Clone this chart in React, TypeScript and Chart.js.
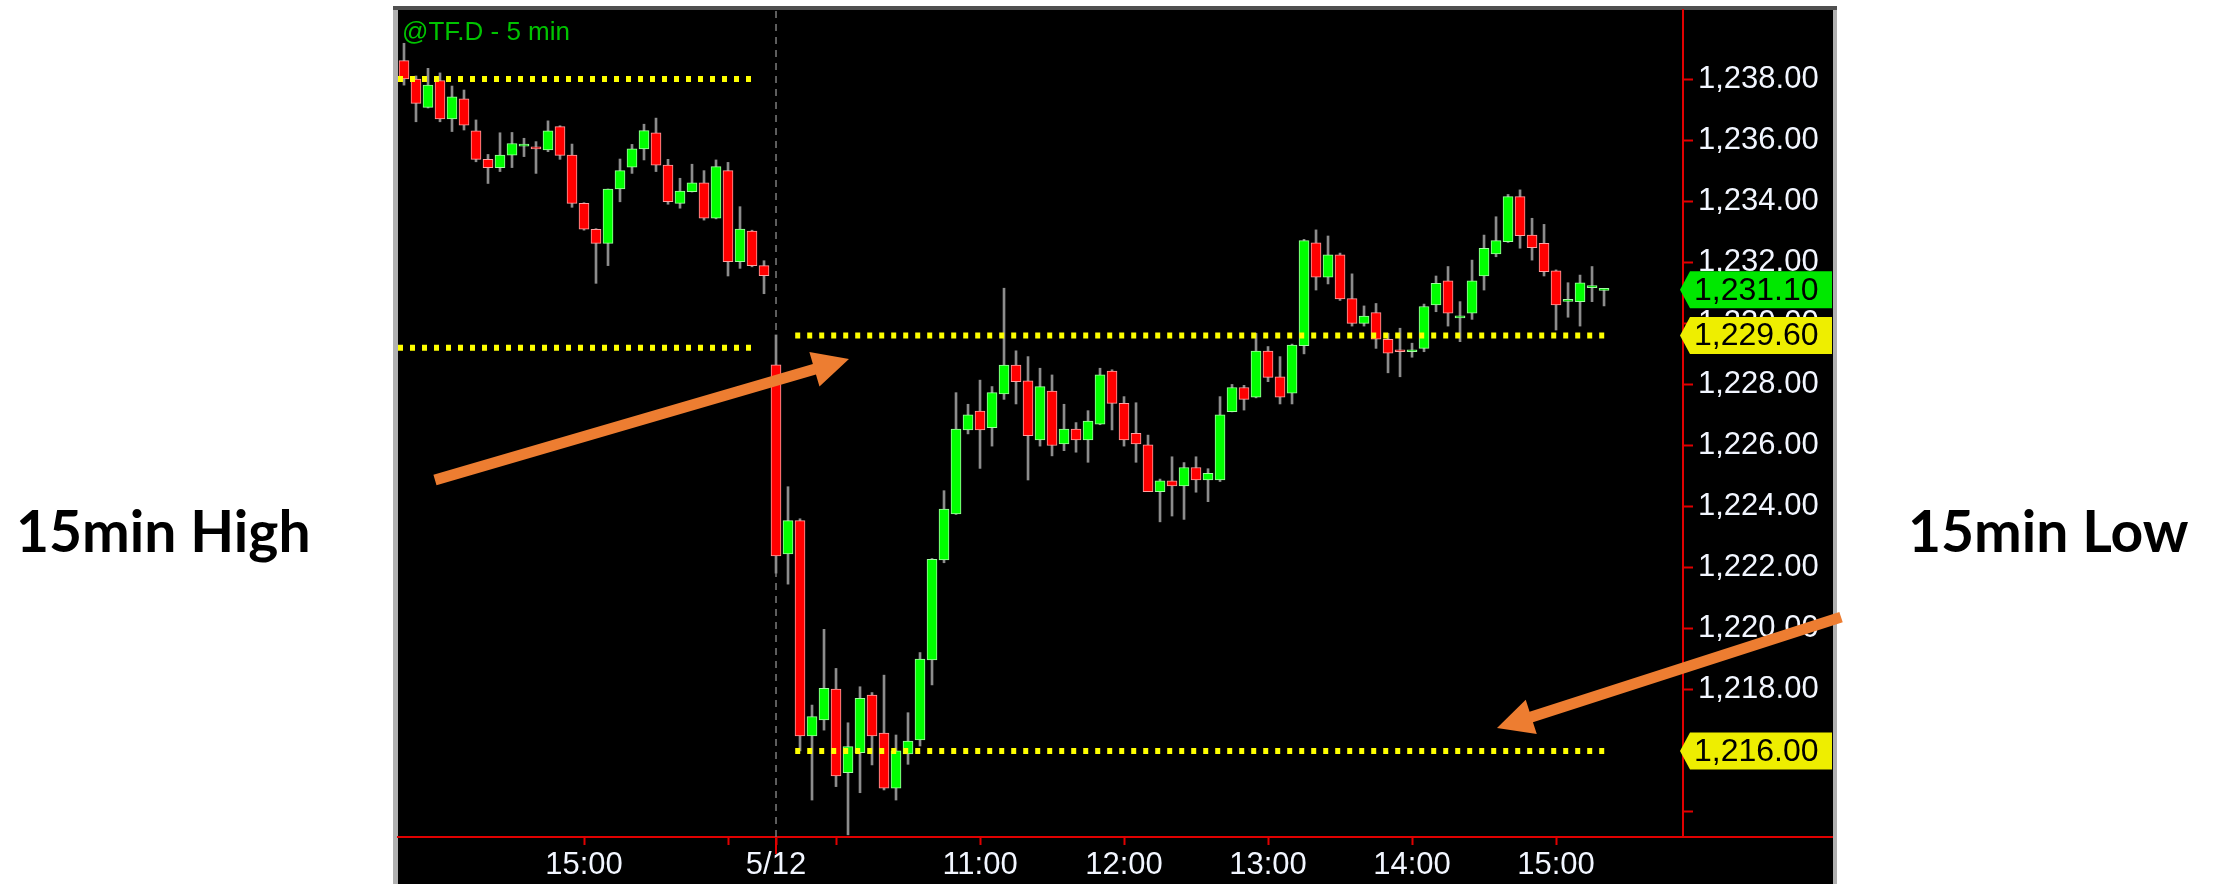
import React, { useEffect, useRef } from 'react';
import { Chart, registerables } from 'chart.js';

Chart.register(...registerables);

// ---- Data (5-minute bars, index = bar number) ----
const OPEN = [
  1238.6, 1238.0, 1237.07, 1237.95, 1236.69, 1237.35, 1236.3, 1235.37, 1235.1, 1235.51,
  1235.8, 1235.74, 1235.68, 1236.44, 1235.51, 1233.93, 1233.08, 1232.62, 1234.4, 1235.11,
  1235.71, 1236.24, 1235.18, 1233.93, 1234.31, 1234.6, 1233.44, 1235.0, 1232.02, 1233.02,
  1231.89,
  1228.64, 1222.45, 1223.54, 1216.49, 1217.01, 1218.02, 1215.29, 1215.94, 1217.83, 1216.58,
  1214.78, 1215.9, 1216.36, 1218.98, 1222.25, 1223.76, 1226.51, 1227.13, 1226.58, 1227.69,
  1228.63, 1228.12, 1226.18, 1227.78, 1226.05, 1226.54, 1226.18, 1226.7, 1228.44, 1227.38,
  1226.4, 1226.02, 1224.49, 1224.84, 1224.68, 1225.28, 1224.87, 1224.87, 1227.11, 1227.9,
  1227.58, 1229.09, 1228.25, 1227.71, 1229.27, 1232.64, 1231.51, 1232.24, 1230.81, 1230.0,
  1230.35, 1229.48, 1229.1, 1229.07, 1229.18, 1230.6, 1231.39, 1230.18, 1230.33, 1231.55,
  1232.27, 1232.67, 1234.15, 1232.89, 1232.62, 1231.72, 1230.72, 1230.71, 1231.17, 1231.08,
];
const HIGH = [
  1239.17, 1238.1, 1238.35, 1238.2, 1237.77, 1237.64, 1236.66, 1235.53, 1236.24, 1236.25,
  1236.06, 1235.95, 1236.63, 1236.47, 1235.87, 1233.95, 1233.1, 1234.4, 1235.38, 1235.86,
  1236.52, 1236.72, 1235.37, 1234.75, 1235.21, 1235.0, 1235.35, 1235.27, 1233.82, 1233.05,
  1232.05,
  1229.62, 1224.65, 1223.6, 1217.5, 1219.98, 1218.7, 1216.92, 1218.1, 1217.91, 1218.48,
  1216.52, 1217.25, 1219.22, 1222.3, 1224.52, 1227.73, 1227.35, 1228.14, 1227.93, 1231.15,
  1229.1, 1228.91, 1228.53, 1228.31, 1227.35, 1226.75, 1227.14, 1228.53, 1228.48, 1227.6,
  1227.4, 1226.34, 1224.9, 1225.63, 1225.44, 1225.63, 1225.24, 1227.6, 1228.0, 1227.97,
  1229.67, 1229.24, 1228.91, 1229.32, 1232.75, 1233.06, 1232.86, 1232.3, 1231.62, 1230.57,
  1230.65, 1229.67, 1229.84, 1229.35, 1230.63, 1231.55, 1231.86, 1230.71, 1232.07, 1232.89,
  1233.49, 1234.22, 1234.37, 1233.44, 1233.24, 1231.75, 1231.33, 1231.58, 1231.86, 1231.12,
];
const LOW = [
  1237.8, 1236.6, 1237.05, 1236.6, 1236.28, 1236.33, 1235.29, 1234.58, 1234.97, 1235.1,
  1235.46, 1234.91, 1235.62, 1235.37, 1233.8, 1233.05, 1231.31, 1231.89, 1233.98, 1234.91,
  1235.35, 1234.97, 1233.9, 1233.77, 1234.3, 1233.38, 1233.42, 1231.55, 1231.8, 1231.85,
  1230.97,
  1221.82, 1221.46, 1216.0, 1214.39, 1216.68, 1214.83, 1213.25, 1214.63, 1215.54, 1214.72,
  1214.39, 1215.56, 1216.16, 1218.16, 1222.16, 1223.74, 1226.38, 1225.25, 1225.98, 1227.51,
  1227.36, 1224.87, 1225.98, 1225.66, 1225.83, 1225.78, 1225.45, 1226.68, 1226.51, 1225.98,
  1225.45, 1224.49, 1223.5, 1223.69, 1223.58, 1224.47, 1224.16, 1224.82, 1227.1, 1227.16,
  1227.56, 1228.09, 1227.36, 1227.36, 1229.0, 1231.09, 1231.29, 1230.75, 1229.91, 1229.91,
  1229.18, 1228.38, 1228.25, 1228.89, 1229.07, 1230.38, 1229.91, 1229.4, 1230.13, 1231.09,
  1232.18, 1232.65, 1232.46, 1232.07, 1231.55, 1229.78, 1230.2, 1229.91, 1230.71, 1230.57,
];
const CLOSE = [
  1238.0, 1237.2, 1237.8, 1236.69, 1237.42, 1236.49, 1235.37, 1235.1, 1235.51, 1235.89,
  1235.84, 1235.71, 1236.3, 1235.5, 1233.93, 1233.08, 1232.62, 1234.4, 1235.0, 1235.71,
  1236.31, 1235.18, 1233.98, 1234.33, 1234.6, 1233.44, 1235.13, 1232.02, 1233.09, 1231.89,
  1231.56,
  1222.38, 1223.54, 1216.49, 1217.12, 1218.05, 1215.18, 1216.14, 1217.72, 1216.49, 1214.78,
  1216.0, 1216.32, 1219.01, 1222.27, 1223.92, 1226.54, 1227.0, 1226.51, 1227.73, 1228.63,
  1228.09, 1226.32, 1227.93, 1226.0, 1226.54, 1226.18, 1226.8, 1228.31, 1227.38, 1226.18,
  1226.05, 1224.49, 1224.84, 1224.68, 1225.28, 1224.87, 1225.09, 1227.0, 1227.9, 1227.51,
  1229.09, 1228.23, 1227.58, 1229.29, 1232.71, 1231.51, 1232.24, 1230.8, 1230.0, 1230.24,
  1229.48, 1229.02, 1229.07, 1229.1, 1230.55, 1231.31, 1230.33, 1230.22, 1231.39, 1232.46,
  1232.71, 1234.15, 1232.87, 1232.48, 1231.69, 1230.6, 1230.76, 1231.33, 1231.2, 1231.1,
];

// x axis: bar-index positions of the time ticks and their labels
const X_TICK_VALUES = [15, 27, 31, 36, 48, 60, 72, 84, 96];
const X_TICK_LABELS = ['15:00', '', '5/12', '', '11:00', '12:00', '13:00', '14:00', '15:00'];
const SESSION_BREAK = 31;
const X_MIN = -0.5;
const X_MAX = 106.58;

// y axis
const Y_TICK_VALUES = [1214, 1216, 1218, 1220, 1222, 1224, 1226, 1228, 1230, 1232, 1234, 1236, 1238];
const Y_TICK_LABELS = ['', '1,216.00', '1,218.00', '1,220.00', '1,222.00', '1,224.00', '1,226.00', '1,228.00', '1,230.00', '1,232.00', '1,234.00', '1,236.00', '1,238.00'];
const Y_MIN = 1213.18;
const Y_MAX = 1240.26;

// 15-minute range levels
const PREV_LEVELS = [1238.0, 1229.2];
const PREV_LEVEL_SPAN = [-0.5, 29.0];
const OR_LEVELS = [1229.6, 1216.0];
const OR_LEVEL_SPAN = [32.6, 100.1];

// right-axis price tags
const TAG_VALUES = [1231.1, 1229.6, 1216.0];
const TAG_TEXTS = ['1,231.10', '1,229.60', '1,216.00'];

const TITLE = '@TF.D - 5 min';
const NOTE_LEFT = '15min High';
const NOTE_RIGHT = '15min Low';

// ---- styles ----
const RED = '#e00000';
const TXT = '#f2f6ff';
const AXIS_FONT = { family: '"Liberation Sans", Arial, sans-serif', size: 31 };
const ORANGE = '#ED7D31';

function drawArrow(ctx: CanvasRenderingContext2D, x1: number, y1: number, x2: number, y2: number,
  shaftW: number, headL: number, headW: number) {
  const dx = x2 - x1, dy = y2 - y1;
  const len = Math.hypot(dx, dy);
  const ux = dx / len, uy = dy / len;
  const px = -uy, py = ux;
  const bx = x2 - ux * headL, by = y2 - uy * headL;
  ctx.beginPath();
  ctx.moveTo(x1 + px * shaftW / 2, y1 + py * shaftW / 2);
  ctx.lineTo(bx + px * shaftW / 2, by + py * shaftW / 2);
  ctx.lineTo(bx + px * headW / 2, by + py * headW / 2);
  ctx.lineTo(x2, y2);
  ctx.lineTo(bx - px * headW / 2, by - py * headW / 2);
  ctx.lineTo(bx - px * shaftW / 2, by - py * shaftW / 2);
  ctx.lineTo(x1 - px * shaftW / 2, y1 - py * shaftW / 2);
  ctx.closePath();
  ctx.fill();
}

const decorPlugin = {
  id: 'decor',
  beforeDraw(chart: any) {
    const { ctx, width, height, chartArea: ca } = chart;
    const panelR = chart.scales.y.right;
    ctx.save();
    ctx.fillStyle = '#ffffff';
    ctx.fillRect(0, 0, width, height);
    ctx.fillStyle = '#b0b0b0';
    ctx.fillRect(ca.left - 5, ca.top - 4, panelR - ca.left + 9, height);
    ctx.fillStyle = '#505050';
    ctx.fillRect(ca.left - 5, ca.top - 4, panelR - ca.left + 9, 4);
    ctx.fillStyle = '#000000';
    ctx.fillRect(ca.left, ca.top, panelR - ca.left, height - ca.top);
    ctx.restore();
  },
  afterDraw(chart: any) {
    const { ctx, chartArea: ca } = chart;
    const xs = chart.scales.x, ys = chart.scales.y;
    ctx.save();
    // x axis line continues under the price scale
    ctx.strokeStyle = RED;
    ctx.lineWidth = 2;
    ctx.beginPath();
    ctx.moveTo(ca.right, ca.bottom);
    ctx.lineTo(ys.right, ca.bottom);
    ctx.stroke();
    // long tick at session start
    const bx = Math.round(xs.getPixelForValue(SESSION_BREAK));
    ctx.beginPath();
    ctx.moveTo(bx, ca.bottom);
    ctx.lineTo(bx, ca.bottom + 17);
    ctx.stroke();

    // title
    ctx.fillStyle = '#00c400';
    ctx.font = '26px "Liberation Sans", Arial, sans-serif';
    ctx.textAlign = 'left';
    ctx.textBaseline = 'alphabetic';
    ctx.fillText(TITLE, ca.left + 4, ca.top + 30);

    // price tags
    const tagColors = ['#00e800', '#eeee00', '#eeee00'];
    ctx.font = '32px "Liberation Sans", Arial, sans-serif';
    ctx.textBaseline = 'middle';
    TAG_VALUES.forEach((v, k) => {
      const y = ys.getPixelForValue(v);
      const h = 18.5;
      ctx.fillStyle = tagColors[k];
      ctx.beginPath();
      ctx.moveTo(ca.right - 3, y);
      ctx.lineTo(ca.right + 7, y - h);
      ctx.lineTo(ys.right - 1, y - h);
      ctx.lineTo(ys.right - 1, y + h);
      ctx.lineTo(ca.right + 7, y + h);
      ctx.closePath();
      ctx.fill();
      ctx.fillStyle = '#000000';
      ctx.fillText(TAG_TEXTS[k], ca.right + 11, y + 1);
    });

    // orange annotation arrows (anchored in data coordinates)
    ctx.fillStyle = ORANGE;
    drawArrow(ctx, xs.getPixelForValue(2.58), ys.getPixelForValue(1224.87),
      xs.getPixelForValue(37.08), ys.getPixelForValue(1228.83), 11, 36, 36);
    drawArrow(ctx, xs.getPixelForValue(119.75), ys.getPixelForValue(1220.38),
      xs.getPixelForValue(91.08), ys.getPixelForValue(1216.75), 11, 36, 36);

    // side notes
    ctx.fillStyle = '#000000';
    ctx.font = 'bold 57px Lato, "Open Sans", sans-serif';
    ctx.textBaseline = 'alphabetic';
    ctx.textAlign = 'left';
    ctx.fillText(NOTE_LEFT, 16, 552);
    ctx.fillText(NOTE_RIGHT, 1908, 552);
    ctx.restore();
  },
};

export default function App() {
  const ref = useRef<HTMLCanvasElement>(null);

  useEffect(() => {
    if (!ref.current) return;
    const idx = OPEN.map((_, i) => i);
    const up = idx.map((i) => CLOSE[i] >= OPEN[i]);
    const bodies = idx.map((i) => ({ x: i, y: [OPEN[i], CLOSE[i]] }));
    const wicks = idx.map((i) => ({ x: i, y: [LOW[i], HIGH[i]] }));

    const levelLine = (value: number, span: number[]) => ({
      type: 'line' as const,
      data: [{ x: span[0], y: value }, { x: span[1], y: value }],
      borderColor: '#ffff00',
      borderWidth: 6,
      borderDash: [5, 7],
      borderCapStyle: 'butt' as const,
      pointRadius: 0,
      tension: 0,
      order: 0,
    });

    const chart = new Chart(ref.current, {
      type: 'bar',
      data: {
        datasets: [
          {
            type: 'line',
            data: [{ x: SESSION_BREAK, y: Y_MIN }, { x: SESSION_BREAK, y: Y_MAX }],
            borderColor: '#7c7c7c',
            borderWidth: 1.5,
            borderDash: [7, 6],
            pointRadius: 0,
            order: 5,
          } as any,
          {
            type: 'bar',
            data: wicks as any,
            backgroundColor: '#8c8c8c',
            barThickness: 2,
            grouped: false,
            order: 4,
          } as any,
          {
            type: 'bar',
            data: bodies as any,
            backgroundColor: up.map((u) => (u ? '#00ff00' : '#ff0000')),
            borderColor: up.map((u) => (u ? '#a0ffa0' : '#ffa0a0')),
            borderWidth: 1,
            borderSkipped: false,
            barThickness: 10,
            minBarLength: 2,
            grouped: false,
            order: 3,
          } as any,
          ...PREV_LEVELS.map((v) => levelLine(v, PREV_LEVEL_SPAN)),
          ...OR_LEVELS.map((v) => levelLine(v, OR_LEVEL_SPAN)),
        ] as any,
      },
      options: {
        responsive: false,
        animation: false,
        devicePixelRatio: 1,
        layout: { padding: { left: 398, right: 391, top: 10, bottom: 0 } },
        plugins: { legend: { display: false }, tooltip: { enabled: false }, title: { display: false } },
        scales: {
          x: {
            type: 'linear',
            min: X_MIN,
            max: X_MAX,
            offset: false,
            afterBuildTicks: (s: any) => { s.ticks = X_TICK_VALUES.map((v) => ({ value: v })); },
            afterFit: (s: any) => { s.height = 47; s.paddingLeft = 0; s.paddingRight = 0; },
            grid: { display: true, drawOnChartArea: false, drawTicks: true, tickLength: 8, tickColor: RED, tickWidth: 2, offset: false },
            border: { display: true, color: RED, width: 2 },
            ticks: {
              autoSkip: false,
              maxRotation: 0,
              minRotation: 0,
              padding: 2,
              color: TXT,
              font: AXIS_FONT,
              callback: (v: any) => {
                const k = X_TICK_VALUES.indexOf(Number(v));
                return k >= 0 ? X_TICK_LABELS[k] : '';
              },
            },
          },
          y: {
            type: 'linear',
            position: 'right',
            min: Y_MIN,
            max: Y_MAX,
            beginAtZero: false,
            afterBuildTicks: (s: any) => { s.ticks = Y_TICK_VALUES.map((v) => ({ value: v })); },
            afterFit: (s: any) => { s.width = 150; s.paddingTop = 0; s.paddingBottom = 0; },
            grid: { display: true, drawOnChartArea: false, drawTicks: true, tickLength: 10, tickColor: RED, tickWidth: 2 },
            border: { display: true, color: RED, width: 2 },
            ticks: {
              padding: 5,
              color: TXT,
              font: AXIS_FONT,
              callback: (v: any) => {
                const k = Y_TICK_VALUES.indexOf(Number(v));
                return k >= 0 ? Y_TICK_LABELS[k] : '';
              },
            },
          },
        },
      } as any,
      plugins: [decorPlugin],
    });
    return () => chart.destroy();
  }, []);

  return (
    <div style={{ position: 'absolute', left: 0, top: 0, width: 2224, height: 884 }}>
      <canvas ref={ref} width={2224} height={884} style={{ display: 'block' }} />
    </div>
  );
}
